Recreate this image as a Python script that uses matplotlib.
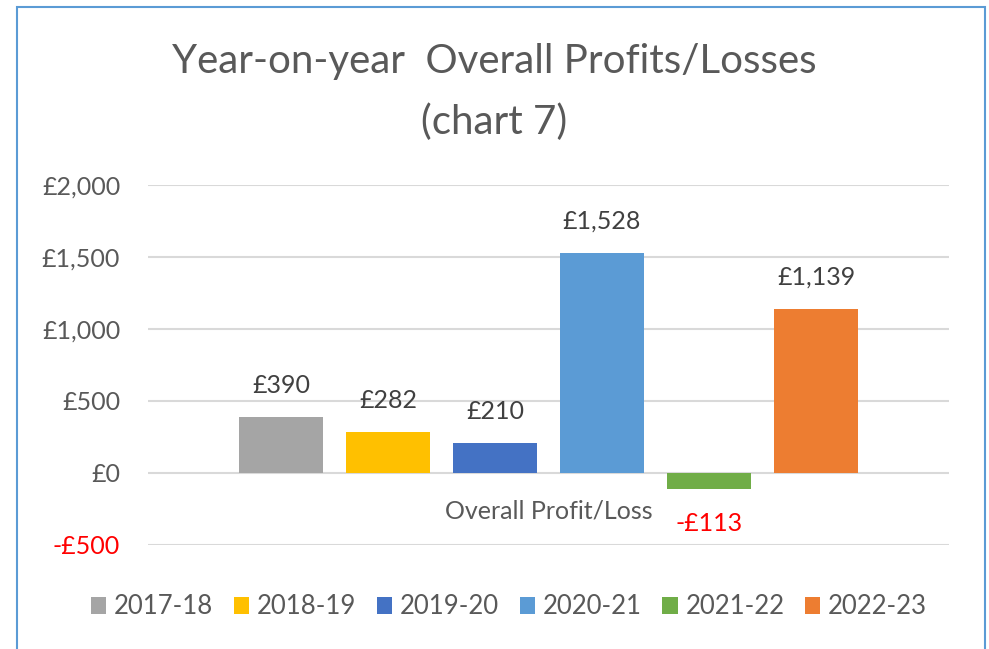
import matplotlib.pyplot as plt
from matplotlib.patches import Rectangle

years = ["2017-18", "2018-19", "2019-20", "2020-21", "2021-22", "2022-23"]
profits = [390, 282, 210, 1528, -113, 1139]
colors = ["#a5a5a5", "#ffc000", "#4472c4", "#5b9bd5", "#70ad47", "#ed7d31"]
category = "Overall Profit/Loss"
yticks = [-500, 0, 500, 1000, 1500, 2000]

TEXT = "#595959"
plt.rcParams["font.family"] = ["Lato", "DejaVu Sans"]


def money(v):
    s = f"£{abs(v):,.0f}"
    return "-" + s if v < 0 else s


fig = plt.figure(figsize=(9.89, 6.49), dpi=100)
W, H = 989, 649
ax = fig.add_axes([148 / W, 1 - 545 / H, (949 - 148) / W, (545 - 185) / H])

# outer chart frame
fig.patches.append(Rectangle((17 / W, -0.05), (985 - 17) / W, 1.05 - 7 / H,
                             transform=fig.transFigure, fill=False,
                             edgecolor="#5b9bd5", linewidth=1.5))

step = 107 / 801
width = 84 / 801
n = len(years)
for i, (yr, v, c) in enumerate(zip(years, profits, colors)):
    x = (i - (n - 1) / 2) * step
    ax.bar(x, v, width=width, color=c, label=yr, zorder=3)
    if v >= 0:
        ax.text(x, v + 140, money(v), ha="center", va="bottom",
                fontsize=18, color="#404040")
    else:
        ax.text(x, v - 160, money(v), ha="center", va="top",
                fontsize=18, color="red")

ax.set_xlim(-0.5, 0.5)
ax.set_ylim(-500, 2000)
ax.set_yticks(yticks)
ax.set_yticklabels([money(t) for t in yticks], fontsize=18, color=TEXT)
ax.get_yticklabels()[0].set_color("red")
ax.tick_params(axis="y", length=0, pad=20)
ax.set_xticks([])
ax.text(0, -264, category, ha="center", va="center", fontsize=18, color=TEXT)

ax.grid(axis="y", color="#d9d9d9", linewidth=1.5, zorder=0)
for s in ax.spines.values():
    s.set_visible(False)

fig.text(0.5, 1 - 62 / H, "Year-on-year  Overall Profits/Losses", ha="center",
         va="center", fontsize=29, color=TEXT)
fig.text(0.5, 1 - 122 / H, "(chart 7)", ha="center", va="center",
         fontsize=29, color=TEXT)

fig.legend(loc="center", bbox_to_anchor=(509 / W, 1 - 607 / H), ncol=6,
           frameon=False, fontsize=18.5, handlelength=0.6, handleheight=0.6,
           handletextpad=0.3, columnspacing=0.8, labelcolor=TEXT)

fig.savefig("out.png", dpi=100)
